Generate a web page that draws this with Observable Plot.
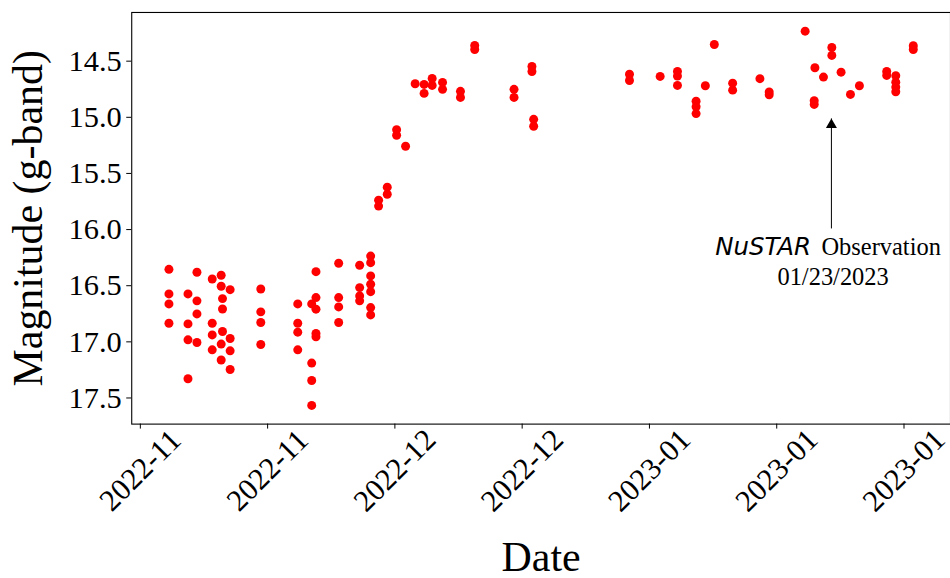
<!DOCTYPE html>
<html>
<head>
<meta charset="utf-8">
<script src="https://cdn.jsdelivr.net/npm/d3@7"></script>
<script src="https://cdn.jsdelivr.net/npm/@observablehq/plot@0.6"></script>
<style>
  html, body { margin: 0; padding: 0; background: #fff; overflow: hidden; }
  #chart { width: 950px; height: 578px; overflow: hidden; }
</style>
</head>
<body>
<div id="chart"></div>
<script>
// Observation epochs (MJD) and g-band magnitudes
const mjd = [
  59902.31, 59902.31, 59902.31, 59902.31,
  59904.18, 59904.18, 59904.18, 59904.18,
  59905.06, 59905.06, 59905.06, 59905.06,
  59906.56, 59906.56, 59906.56, 59906.56,
  59907.44, 59907.44, 59907.44, 59907.44,
  59907.57, 59907.57, 59907.57,
  59908.32, 59908.32, 59908.32, 59908.32,
  59911.33, 59911.33, 59911.33, 59911.33,
  59914.96, 59914.96, 59914.96, 59914.96,
  59916.33, 59916.33, 59916.33, 59916.33,
  59916.75, 59916.75, 59916.75, 59916.75, 59916.75,
  59918.98, 59918.98, 59918.98, 59918.98,
  59921.04, 59921.04, 59921.04, 59921.04,
  59922.12, 59922.12, 59922.12, 59922.12, 59922.12, 59922.12, 59922.12,
  59922.90, 59922.90,
  59923.75, 59923.75,
  59924.67, 59924.67,
  59925.55,
  59926.49,
  59927.37, 59927.37,
  59928.16, 59928.16,
  59929.18, 59929.18,
  59930.94, 59930.94,
  59932.34, 59932.34,
  59936.20, 59936.20,
  59937.96, 59937.96,
  59938.13, 59938.13,
  59947.54, 59947.54,
  59950.55,
  59952.25, 59952.25, 59952.25,
  59954.08, 59954.08, 59954.08,
  59954.99,
  59955.87,
  59957.67, 59957.67,
  59960.35,
  59961.26, 59961.26,
  59964.79,
  59965.75,
  59965.68, 59965.68,
  59966.59,
  59967.41, 59967.41,
  59968.32,
  59969.24,
  59970.12,
  59972.80, 59972.80,
  59973.69, 59973.69, 59973.69, 59973.69,
  59975.41, 59975.41
];
const gmag = [
  16.354, 16.573, 16.662, 16.834,
  16.573, 16.840, 16.982, 17.329,
  16.380, 16.635, 16.751, 17.006,
  16.440, 16.834, 16.938, 17.071,
  16.407, 16.505, 17.020, 17.162,
  16.615, 16.707, 16.908,
  16.535, 16.970, 17.080, 17.246,
  16.529, 16.733, 16.828, 17.024,
  16.662, 16.834, 16.914, 17.071,
  16.662, 17.189, 17.344, 17.566,
  16.375, 16.606, 16.709, 16.925, 16.955,
  16.300, 16.606, 16.689, 16.828,
  16.318, 16.517, 16.591, 16.635,
  16.236, 16.295, 16.413, 16.487, 16.553, 16.695, 16.760,
  15.738, 15.791,
  15.622, 15.685,
  15.110, 15.160,
  15.258,
  14.701,
  14.707, 14.787,
  14.654, 14.716,
  14.689, 14.751,
  14.769, 14.823,
  14.360, 14.396,
  14.751, 14.823,
  14.547, 14.592,
  15.018, 15.080,
  14.617, 14.672,
  14.636,
  14.592, 14.633, 14.716,
  14.857, 14.906, 14.967,
  14.719,
  14.352,
  14.696, 14.758,
  14.656,
  14.775, 14.800,
  14.233,
  14.559,
  14.852, 14.885,
  14.642,
  14.378, 14.449,
  14.598,
  14.796,
  14.719,
  14.592, 14.627,
  14.630, 14.687, 14.731, 14.772,
  14.363, 14.396
];

// Axis ticks
const xTickMJD = [59899.5, 59912, 59924.5, 59937, 59949.5, 59962, 59974.5];
const xTickLabels = ["2022-11", "2022-11", "2022-12", "2022-12", "2023-01", "2023-01", "2023-01"];
const yTicks = [14.5, 15.0, 15.5, 16.0, 16.5, 17.0, 17.5];

// Annotation
const obsMJD = 59967.37;
const arrowTip = 15.01;
const arrowTail = 15.99;
const obsLabel1a = "NuSTAR";
const obsLabel1b = "Observation";
const obsLabel2 = "01/23/2023";

const MJD0 = Date.UTC(1858, 10, 17);
const toDate = m => new Date(MJD0 + m * 86400000);

const rows = mjd.map((m, i) => ({date: toDate(m), mag: gmag[i]}));
const xTicks = xTickMJD.map(toDate);

// matplotlib-like 5% margins
const [x0, x1] = d3.extent(mjd);
const [y0, y1] = d3.extent(gmag);
const xPad = 0.05 * (x1 - x0), yPad = 0.05 * (y1 - y0);
const xDomain = [toDate(x0 - xPad), toDate(x1 + xPad)];
const yDomain = [y0 - yPad, y1 + yPad];

const obsDate = toDate(obsMJD);
const serif = "Liberation Serif";
const sans = "DejaVu Sans";

const chart = Plot.plot({
  width: 952,
  height: 578,
  marginLeft: 131.5,
  marginRight: 0,
  marginTop: 12,
  marginBottom: 153.5,
  style: {fontFamily: serif, background: "white", color: "black", overflow: "hidden"},
  x: {type: "utc", domain: xDomain},
  y: {domain: yDomain, reverse: true},
  marks: [
    Plot.axisY({ticks: yTicks, tickFormat: d => d.toFixed(1), tickSize: 5, tickPadding: 5,
      fontSize: 30.5, label: null, stroke: "black"}),
    Plot.axisX({ticks: xTicks, tickSize: 5, tickFormat: () => "", label: null, stroke: "black"}),
    Plot.text(xTicks, {x: d => d, text: (d, i) => xTickLabels[i], frameAnchor: "bottom",
      dy: 46.5, rotate: -45, textAnchor: "middle", lineAnchor: "middle", fontSize: 30.5, fill: "black"}),
    Plot.dot(rows, {x: "date", y: "mag", r: 4.5, fill: "red", stroke: "none"}),
    Plot.link([obsDate], {x1: d => d, x2: d => d, y1: () => arrowTail, y2: () => arrowTip,
      stroke: "black", strokeWidth: 1}),
    Plot.dot([obsDate], {x: d => d, y: () => arrowTip, symbol: "triangle", r: 4.1,
      fill: "black", stroke: "none", dy: 6.35}),
    Plot.text([obsLabel1a], {x: () => obsDate, y: () => arrowTail, text: d => d, dy: 19, dx: -20.5,
      textAnchor: "end", lineAnchor: "middle", fontSize: 24.5, fill: "black"}),
    Plot.text([obsLabel1b], {x: () => obsDate, y: () => arrowTail, text: d => d, dy: 19, dx: -10,
      textAnchor: "start", lineAnchor: "middle", fontSize: 24.5, fill: "black"}),
    Plot.text([obsLabel2], {x: () => obsDate, y: () => arrowTail, text: d => d, dy: 48.5, dx: 1.7,
      textAnchor: "middle", lineAnchor: "middle", fontSize: 24.5, fill: "black"}),
    Plot.text(["Date"], {frameAnchor: "bottom", text: d => d, dy: 134, dx: 0,
      textAnchor: "middle", lineAnchor: "middle", fontSize: 42, fill: "black"}),
    Plot.text(["Magnitude (g-band)"], {frameAnchor: "left", text: d => d, dx: -103.5, dy: 0,
      rotate: -90, textAnchor: "middle", lineAnchor: "middle", fontSize: 42, fill: "black"}),
    Plot.frame({stroke: "black", strokeWidth: 1.1})
  ]
});
// enforce fonts with inline styles (serif everywhere, oblique sans for the mission name)
d3.select(chart).selectAll("text")
  .style("font-family", serif)
  .style("font-variant", "normal")
  .style("font-style", "normal");
d3.select(chart).selectAll("text")
  .filter(function() { return this.textContent === obsLabel1a; })
  .style("font-family", sans)
  .style("font-style", "oblique");
document.getElementById("chart").appendChild(chart);
</script>
</body>
</html>
